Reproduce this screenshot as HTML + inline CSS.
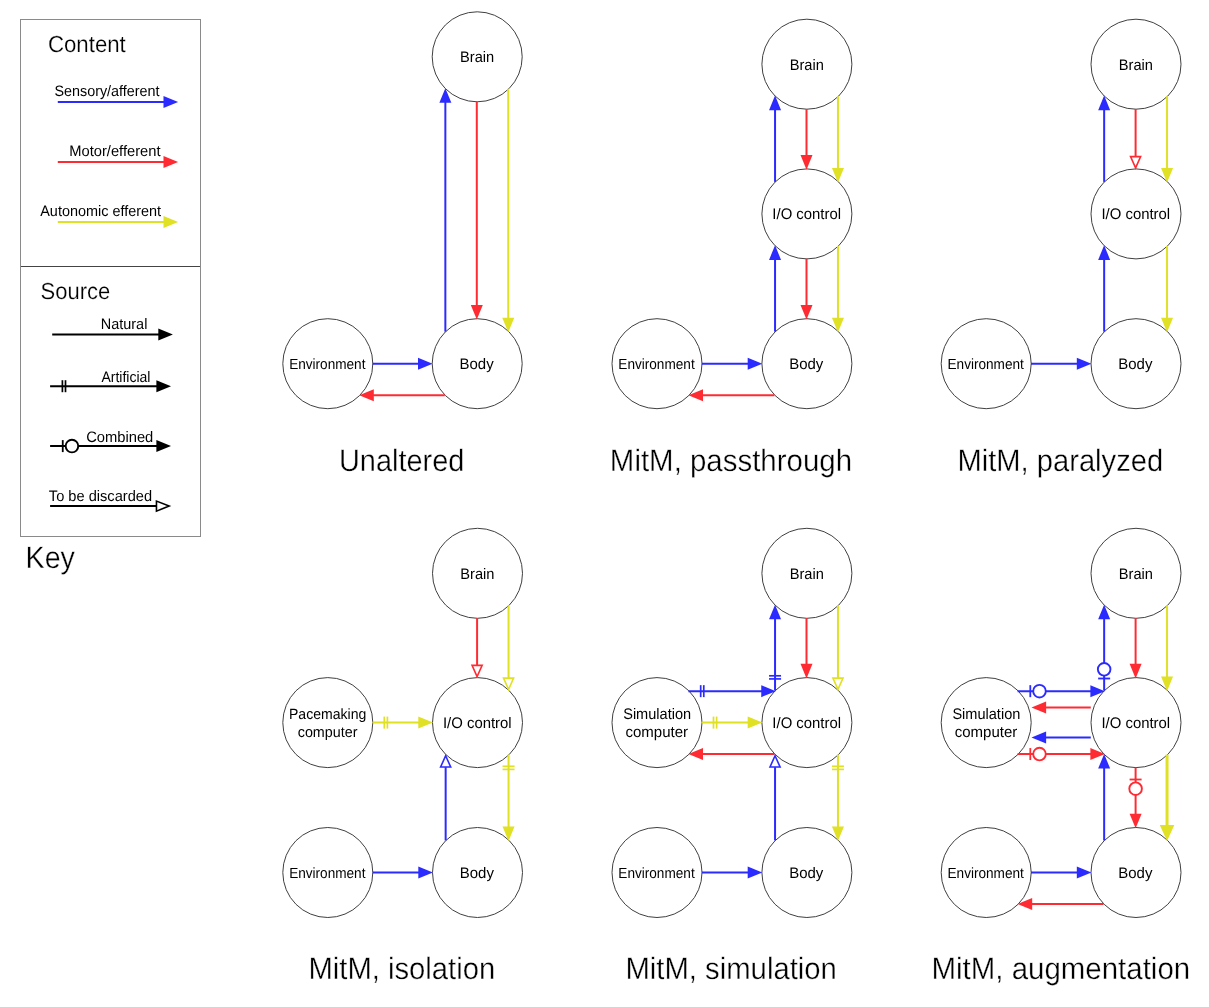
<!DOCTYPE html>
<html><head><meta charset="utf-8"><style>
html,body{margin:0;padding:0;background:#fff;}
svg{display:block;}
text{font-family:"Liberation Sans",sans-serif;fill:#000;text-rendering:geometricPrecision;}
svg{will-change:transform;}
.big{stroke:#fff;stroke-width:0.35px;}
.mid{stroke:#fff;stroke-width:0.2px;}
</style></head><body>
<svg width="1209" height="1007" viewBox="0 0 1209 1007">
<rect width="1209" height="1007" fill="#fff"/>
<circle cx="477.2" cy="56.8" r="45" fill="#fff" stroke="#404040" stroke-width="1"/>
<circle cx="327.8" cy="363.7" r="45" fill="#fff" stroke="#404040" stroke-width="1"/>
<circle cx="477.2" cy="363.7" r="45" fill="#fff" stroke="#404040" stroke-width="1"/>
<circle cx="806.9" cy="64.2" r="45" fill="#fff" stroke="#404040" stroke-width="1"/>
<circle cx="806.9" cy="213.9" r="45" fill="#fff" stroke="#404040" stroke-width="1"/>
<circle cx="657" cy="363.7" r="45" fill="#fff" stroke="#404040" stroke-width="1"/>
<circle cx="806.9" cy="363.7" r="45" fill="#fff" stroke="#404040" stroke-width="1"/>
<circle cx="1136" cy="64.2" r="45" fill="#fff" stroke="#404040" stroke-width="1"/>
<circle cx="1136" cy="213.9" r="45" fill="#fff" stroke="#404040" stroke-width="1"/>
<circle cx="986.2" cy="363.7" r="45" fill="#fff" stroke="#404040" stroke-width="1"/>
<circle cx="1136" cy="363.7" r="45" fill="#fff" stroke="#404040" stroke-width="1"/>
<circle cx="477.5" cy="573.3" r="45" fill="#fff" stroke="#404040" stroke-width="1"/>
<circle cx="477.5" cy="722.6" r="45" fill="#fff" stroke="#404040" stroke-width="1"/>
<circle cx="327.8" cy="722.6" r="45" fill="#fff" stroke="#404040" stroke-width="1"/>
<circle cx="327.8" cy="872.5" r="45" fill="#fff" stroke="#404040" stroke-width="1"/>
<circle cx="477.5" cy="872.5" r="45" fill="#fff" stroke="#404040" stroke-width="1"/>
<circle cx="806.9" cy="573.3" r="45" fill="#fff" stroke="#404040" stroke-width="1"/>
<circle cx="806.9" cy="722.6" r="45" fill="#fff" stroke="#404040" stroke-width="1"/>
<circle cx="657" cy="722.6" r="45" fill="#fff" stroke="#404040" stroke-width="1"/>
<circle cx="657" cy="872.5" r="45" fill="#fff" stroke="#404040" stroke-width="1"/>
<circle cx="806.9" cy="872.5" r="45" fill="#fff" stroke="#404040" stroke-width="1"/>
<circle cx="1136" cy="573.3" r="45" fill="#fff" stroke="#404040" stroke-width="1"/>
<circle cx="1136" cy="722.6" r="45" fill="#fff" stroke="#404040" stroke-width="1"/>
<circle cx="986.2" cy="722.6" r="45" fill="#fff" stroke="#404040" stroke-width="1"/>
<circle cx="986.2" cy="872.5" r="45" fill="#fff" stroke="#404040" stroke-width="1"/>
<circle cx="1136" cy="872.5" r="45" fill="#fff" stroke="#404040" stroke-width="1"/>
<rect x="20.5" y="19.5" width="180" height="517" fill="none" stroke="#8a8a8a" stroke-width="1"/>
<line x1="21" y1="266.5" x2="200" y2="266.5" stroke="#444" stroke-width="1"/>
<line x1="57.8" y1="102" x2="164.5" y2="102" stroke="#2b2bff" stroke-width="2"/>
<polygon points="178.1,102 163.5,108 163.5,96" fill="#2b2bff"/>
<line x1="57.8" y1="162" x2="164.5" y2="162" stroke="#ff2b33" stroke-width="2"/>
<polygon points="178.1,162 163.5,168 163.5,156" fill="#ff2b33"/>
<line x1="57.8" y1="222" x2="164.5" y2="222" stroke="#e0e024" stroke-width="2"/>
<polygon points="178.1,222 163.5,228 163.5,216" fill="#e0e024"/>
<line x1="52.2" y1="334.4" x2="159.3" y2="334.4" stroke="#000000" stroke-width="2"/>
<polygon points="172.9,334.4 158.3,340.4 158.3,328.4" fill="#000000"/>
<line x1="50.1" y1="386.2" x2="157.4" y2="386.2" stroke="#000000" stroke-width="2"/>
<polygon points="171,386.2 156.4,392.2 156.4,380.2" fill="#000000"/>
<line x1="62.4" y1="392.2" x2="62.4" y2="380.2" stroke="#000000" stroke-width="1.7"/>
<line x1="65.5" y1="392.2" x2="65.5" y2="380.2" stroke="#000000" stroke-width="1.7"/>
<line x1="50.1" y1="446.1" x2="157.4" y2="446.1" stroke="#000000" stroke-width="2"/>
<polygon points="171,446.1 156.4,452.1 156.4,440.1" fill="#000000"/>
<line x1="62.75" y1="452.1" x2="62.75" y2="440.1" stroke="#000000" stroke-width="1.8"/>
<circle cx="71.95" cy="446.1" r="6.3" fill="#fff" stroke="#000000" stroke-width="1.9"/>
<line x1="50.1" y1="506.1" x2="156.3" y2="506.1" stroke="#000000" stroke-width="2"/>
<polygon points="169.14,506.1 156.46,511.14 156.46,501.06" fill="#fff" stroke="#000000" stroke-width="1.6" stroke-linejoin="miter"/>
<line x1="445.35" y1="331.71" x2="445.35" y2="101.79" stroke="#2b2bff" stroke-width="2"/>
<polygon points="445.35,88.19 451.35,102.79 439.35,102.79" fill="#2b2bff"/>
<line x1="476.8" y1="101.6" x2="476.8" y2="305.9" stroke="#ff2b33" stroke-width="2"/>
<polygon points="476.8,319.5 470.8,304.9 482.8,304.9" fill="#ff2b33"/>
<line x1="508.25" y1="88.79" x2="508.25" y2="318.71" stroke="#e0e024" stroke-width="2"/>
<polygon points="508.25,332.31 502.25,317.71 514.25,317.71" fill="#e0e024"/>
<line x1="372.6" y1="363.7" x2="419" y2="363.7" stroke="#2b2bff" stroke-width="2"/>
<polygon points="432.6,363.7 418,369.7 418,357.7" fill="#2b2bff"/>
<line x1="444.81" y1="395.15" x2="372.79" y2="395.15" stroke="#ff2b33" stroke-width="2"/>
<polygon points="359.19,395.15 373.79,389.15 373.79,401.15" fill="#ff2b33"/>
<line x1="775.05" y1="181.91" x2="775.05" y2="109.19" stroke="#2b2bff" stroke-width="2"/>
<polygon points="775.05,95.59 781.05,110.19 769.05,110.19" fill="#2b2bff"/>
<line x1="775.05" y1="331.71" x2="775.05" y2="258.89" stroke="#2b2bff" stroke-width="2"/>
<polygon points="775.05,245.29 781.05,259.89 769.05,259.89" fill="#2b2bff"/>
<line x1="806.5" y1="109" x2="806.5" y2="156.1" stroke="#ff2b33" stroke-width="2"/>
<polygon points="806.5,169.7 800.5,155.1 812.5,155.1" fill="#ff2b33"/>
<line x1="806.5" y1="258.7" x2="806.5" y2="305.9" stroke="#ff2b33" stroke-width="2"/>
<polygon points="806.5,319.5 800.5,304.9 812.5,304.9" fill="#ff2b33"/>
<line x1="837.95" y1="96.19" x2="837.95" y2="168.91" stroke="#e0e024" stroke-width="2"/>
<polygon points="837.95,182.51 831.95,167.91 843.95,167.91" fill="#e0e024"/>
<line x1="837.95" y1="245.89" x2="837.95" y2="318.71" stroke="#e0e024" stroke-width="2"/>
<polygon points="837.95,332.31 831.95,317.71 843.95,317.71" fill="#e0e024"/>
<line x1="701.8" y1="363.7" x2="748.7" y2="363.7" stroke="#2b2bff" stroke-width="2"/>
<polygon points="762.3,363.7 747.7,369.7 747.7,357.7" fill="#2b2bff"/>
<line x1="774.51" y1="395.15" x2="701.99" y2="395.15" stroke="#ff2b33" stroke-width="2"/>
<polygon points="688.39,395.15 702.99,389.15 702.99,401.15" fill="#ff2b33"/>
<line x1="1104.15" y1="181.91" x2="1104.15" y2="109.19" stroke="#2b2bff" stroke-width="2"/>
<polygon points="1104.15,95.59 1110.15,110.19 1098.15,110.19" fill="#2b2bff"/>
<line x1="1104.15" y1="331.71" x2="1104.15" y2="258.89" stroke="#2b2bff" stroke-width="2"/>
<polygon points="1104.15,245.29 1110.15,259.89 1098.15,259.89" fill="#2b2bff"/>
<line x1="1135.6" y1="109" x2="1135.6" y2="156.5" stroke="#ff2b33" stroke-width="2"/>
<polygon points="1135.6,167.94 1130.56,156.66 1140.64,156.66" fill="#fff" stroke="#ff2b33" stroke-width="1.6" stroke-linejoin="miter"/>
<line x1="1167.05" y1="96.19" x2="1167.05" y2="168.91" stroke="#e0e024" stroke-width="2"/>
<polygon points="1167.05,182.51 1161.05,167.91 1173.05,167.91" fill="#e0e024"/>
<line x1="1167.05" y1="245.89" x2="1167.05" y2="318.71" stroke="#e0e024" stroke-width="2"/>
<polygon points="1167.05,332.31 1161.05,317.71 1173.05,317.71" fill="#e0e024"/>
<line x1="1031" y1="363.7" x2="1077.8" y2="363.7" stroke="#2b2bff" stroke-width="2"/>
<polygon points="1091.4,363.7 1076.8,369.7 1076.8,357.7" fill="#2b2bff"/>
<line x1="477.1" y1="618.1" x2="477.1" y2="665.2" stroke="#ff2b33" stroke-width="2"/>
<polygon points="477.1,676.64 472.06,665.36 482.14,665.36" fill="#fff" stroke="#ff2b33" stroke-width="1.6" stroke-linejoin="miter"/>
<line x1="508.55" y1="605.29" x2="508.55" y2="678.01" stroke="#e0e024" stroke-width="2"/>
<polygon points="508.55,689.45 503.51,678.17 513.59,678.17" fill="#fff" stroke="#e0e024" stroke-width="1.6" stroke-linejoin="miter"/>
<line x1="372.6" y1="722.6" x2="419.3" y2="722.6" stroke="#e0e024" stroke-width="2"/>
<polygon points="432.9,722.6 418.3,728.6 418.3,716.6" fill="#e0e024"/>
<line x1="384.3" y1="728.6" x2="384.3" y2="716.6" stroke="#e0e024" stroke-width="1.7"/>
<line x1="387.4" y1="728.6" x2="387.4" y2="716.6" stroke="#e0e024" stroke-width="1.7"/>
<line x1="445.65" y1="840.51" x2="445.65" y2="767.19" stroke="#2b2bff" stroke-width="2"/>
<polygon points="445.65,755.75 450.69,767.03 440.61,767.03" fill="#fff" stroke="#2b2bff" stroke-width="1.6" stroke-linejoin="miter"/>
<line x1="508.55" y1="754.59" x2="508.55" y2="827.51" stroke="#e0e024" stroke-width="2"/>
<polygon points="508.55,841.11 502.55,826.51 514.55,826.51" fill="#e0e024"/>
<line x1="502.55" y1="766.29" x2="514.55" y2="766.29" stroke="#e0e024" stroke-width="1.7"/>
<line x1="502.55" y1="769.39" x2="514.55" y2="769.39" stroke="#e0e024" stroke-width="1.7"/>
<line x1="372.6" y1="872.5" x2="419.3" y2="872.5" stroke="#2b2bff" stroke-width="2"/>
<polygon points="432.9,872.5 418.3,878.5 418.3,866.5" fill="#2b2bff"/>
<line x1="775.05" y1="690.61" x2="775.05" y2="618.29" stroke="#2b2bff" stroke-width="2"/>
<polygon points="775.05,604.69 781.05,619.29 769.05,619.29" fill="#2b2bff"/>
<line x1="781.05" y1="678.91" x2="769.05" y2="678.91" stroke="#2b2bff" stroke-width="1.7"/>
<line x1="781.05" y1="675.81" x2="769.05" y2="675.81" stroke="#2b2bff" stroke-width="1.7"/>
<line x1="806.5" y1="618.1" x2="806.5" y2="664.8" stroke="#ff2b33" stroke-width="2"/>
<polygon points="806.5,678.4 800.5,663.8 812.5,663.8" fill="#ff2b33"/>
<line x1="837.95" y1="605.29" x2="837.95" y2="678.01" stroke="#e0e024" stroke-width="2"/>
<polygon points="837.95,689.45 832.91,678.17 842.99,678.17" fill="#fff" stroke="#e0e024" stroke-width="1.6" stroke-linejoin="miter"/>
<line x1="688.39" y1="691.15" x2="762.25" y2="691.15" stroke="#2b2bff" stroke-width="2"/>
<polygon points="775.85,691.15 761.25,697.15 761.25,685.15" fill="#2b2bff"/>
<line x1="700.69" y1="697.15" x2="700.69" y2="685.15" stroke="#2b2bff" stroke-width="1.7"/>
<line x1="703.79" y1="697.15" x2="703.79" y2="685.15" stroke="#2b2bff" stroke-width="1.7"/>
<line x1="701.8" y1="722.6" x2="748.7" y2="722.6" stroke="#e0e024" stroke-width="2"/>
<polygon points="762.3,722.6 747.7,728.6 747.7,716.6" fill="#e0e024"/>
<line x1="713.5" y1="728.6" x2="713.5" y2="716.6" stroke="#e0e024" stroke-width="1.7"/>
<line x1="716.6" y1="728.6" x2="716.6" y2="716.6" stroke="#e0e024" stroke-width="1.7"/>
<line x1="774.51" y1="754.05" x2="701.99" y2="754.05" stroke="#ff2b33" stroke-width="2"/>
<polygon points="688.39,754.05 702.99,748.05 702.99,760.05" fill="#ff2b33"/>
<line x1="775.05" y1="840.51" x2="775.05" y2="767.19" stroke="#2b2bff" stroke-width="2"/>
<polygon points="775.05,755.75 780.09,767.03 770.01,767.03" fill="#fff" stroke="#2b2bff" stroke-width="1.6" stroke-linejoin="miter"/>
<line x1="837.95" y1="754.59" x2="837.95" y2="827.51" stroke="#e0e024" stroke-width="2"/>
<polygon points="837.95,841.11 831.95,826.51 843.95,826.51" fill="#e0e024"/>
<line x1="831.95" y1="766.29" x2="843.95" y2="766.29" stroke="#e0e024" stroke-width="1.7"/>
<line x1="831.95" y1="769.39" x2="843.95" y2="769.39" stroke="#e0e024" stroke-width="1.7"/>
<line x1="701.8" y1="872.5" x2="748.7" y2="872.5" stroke="#2b2bff" stroke-width="2"/>
<polygon points="762.3,872.5 747.7,878.5 747.7,866.5" fill="#2b2bff"/>
<line x1="1104.15" y1="690.61" x2="1104.15" y2="618.29" stroke="#2b2bff" stroke-width="2"/>
<polygon points="1104.15,604.69 1110.15,619.29 1098.15,619.29" fill="#2b2bff"/>
<line x1="1110.15" y1="678.51" x2="1098.15" y2="678.51" stroke="#2b2bff" stroke-width="1.8"/>
<circle cx="1104.15" cy="669.31" r="6.3" fill="#fff" stroke="#2b2bff" stroke-width="1.9"/>
<line x1="1135.6" y1="618.1" x2="1135.6" y2="664.8" stroke="#ff2b33" stroke-width="2"/>
<polygon points="1135.6,678.4 1129.6,663.8 1141.6,663.8" fill="#ff2b33"/>
<line x1="1167.05" y1="605.29" x2="1167.05" y2="677.61" stroke="#e0e024" stroke-width="2"/>
<polygon points="1167.05,691.21 1161.05,676.61 1173.05,676.61" fill="#e0e024"/>
<line x1="1017.59" y1="691.15" x2="1091.35" y2="691.15" stroke="#2b2bff" stroke-width="2"/>
<polygon points="1104.95,691.15 1090.35,697.15 1090.35,685.15" fill="#2b2bff"/>
<line x1="1030.29" y1="697.15" x2="1030.29" y2="685.15" stroke="#2b2bff" stroke-width="1.8"/>
<circle cx="1039.49" cy="691.15" r="6.3" fill="#fff" stroke="#2b2bff" stroke-width="1.9"/>
<line x1="1090.8" y1="707.5" x2="1045.1" y2="707.5" stroke="#ff2b33" stroke-width="2"/>
<polygon points="1031.5,707.5 1046.1,701.5 1046.1,713.5" fill="#ff2b33"/>
<line x1="1090.8" y1="737.5" x2="1045.1" y2="737.5" stroke="#2b2bff" stroke-width="2"/>
<polygon points="1031.5,737.5 1046.1,731.5 1046.1,743.5" fill="#2b2bff"/>
<line x1="1017.59" y1="754.05" x2="1091.35" y2="754.05" stroke="#ff2b33" stroke-width="2"/>
<polygon points="1104.95,754.05 1090.35,760.05 1090.35,748.05" fill="#ff2b33"/>
<line x1="1030.29" y1="760.05" x2="1030.29" y2="748.05" stroke="#ff2b33" stroke-width="1.8"/>
<circle cx="1039.49" cy="754.05" r="6.3" fill="#fff" stroke="#ff2b33" stroke-width="1.9"/>
<line x1="1104.15" y1="840.51" x2="1104.15" y2="767.59" stroke="#2b2bff" stroke-width="2"/>
<polygon points="1104.15,753.99 1110.15,768.59 1098.15,768.59" fill="#2b2bff"/>
<line x1="1135.6" y1="767.4" x2="1135.6" y2="814.7" stroke="#ff2b33" stroke-width="2"/>
<polygon points="1135.6,828.3 1129.6,813.7 1141.6,813.7" fill="#ff2b33"/>
<line x1="1129.6" y1="779.5" x2="1141.6" y2="779.5" stroke="#ff2b33" stroke-width="1.8"/>
<circle cx="1135.6" cy="788.7" r="6.3" fill="#fff" stroke="#ff2b33" stroke-width="1.9"/>
<line x1="1167.05" y1="754.59" x2="1167.05" y2="826.11" stroke="#e0e024" stroke-width="3"/>
<polygon points="1167.05,841.11 1159.75,825.11 1174.35,825.11" fill="#e0e024"/>
<line x1="1031" y1="872.5" x2="1077.8" y2="872.5" stroke="#2b2bff" stroke-width="2"/>
<polygon points="1091.4,872.5 1076.8,878.5 1076.8,866.5" fill="#2b2bff"/>
<line x1="1103.61" y1="903.95" x2="1031.19" y2="903.95" stroke="#ff2b33" stroke-width="2"/>
<polygon points="1017.59,903.95 1032.19,897.95 1032.19,909.95" fill="#ff2b33"/>
<text x="47.99" y="51.9" font-size="23.2" textLength="77.78" lengthAdjust="spacingAndGlyphs" class="mid">Content</text>
<text x="40.61" y="298.8" font-size="23.2" textLength="69.75" lengthAdjust="spacingAndGlyphs" class="mid">Source</text>
<text x="25.54" y="567.8" font-size="30.9" textLength="49.35" lengthAdjust="spacingAndGlyphs" class="big">Key</text>
<text x="54.45" y="95.8" font-size="15.1" textLength="105.05" lengthAdjust="spacingAndGlyphs">Sensory/afferent</text>
<text x="69.19" y="155.8" font-size="15.1" textLength="91.32" lengthAdjust="spacingAndGlyphs">Motor/efferent</text>
<text x="40.26" y="215.8" font-size="15.1" textLength="120.86" lengthAdjust="spacingAndGlyphs">Autonomic efferent</text>
<text x="100.81" y="328.7" font-size="15.1" textLength="46.55" lengthAdjust="spacingAndGlyphs">Natural</text>
<text x="101.47" y="381.6" font-size="15.1" textLength="48.99" lengthAdjust="spacingAndGlyphs">Artificial</text>
<text x="86.16" y="441.6" font-size="15.1" textLength="67.17" lengthAdjust="spacingAndGlyphs">Combined</text>
<text x="48.87" y="500.8" font-size="15.1" textLength="103.15" lengthAdjust="spacingAndGlyphs">To be discarded</text>
<text x="338.96" y="471.2" font-size="30.8" textLength="125.38" lengthAdjust="spacingAndGlyphs" class="big">Unaltered</text>
<text x="609.87" y="470.9" font-size="30.8" textLength="242.17" lengthAdjust="spacingAndGlyphs" class="big">MitM, passthrough</text>
<text x="957.5" y="471.1" font-size="30.8" textLength="205.63" lengthAdjust="spacingAndGlyphs" class="big">MitM, paralyzed</text>
<text x="308.49" y="978.9" font-size="30.8" textLength="186.73" lengthAdjust="spacingAndGlyphs" class="big">MitM, isolation</text>
<text x="625.49" y="978.8" font-size="30.8" textLength="211.36" lengthAdjust="spacingAndGlyphs" class="big">MitM, simulation</text>
<text x="931.47" y="978.7" font-size="30.8" textLength="258.7" lengthAdjust="spacingAndGlyphs" class="big">MitM, augmentation</text>
<text x="459.99" y="62.1" font-size="15.3" textLength="34.19" lengthAdjust="spacingAndGlyphs">Brain</text>
<text x="289.13" y="369" font-size="14.7" textLength="76.34" lengthAdjust="spacingAndGlyphs">Environment</text>
<text x="459.51" y="369" font-size="15.3" textLength="34.16" lengthAdjust="spacingAndGlyphs">Body</text>
<text x="789.69" y="69.5" font-size="15.3" textLength="34.19" lengthAdjust="spacingAndGlyphs">Brain</text>
<text x="772.37" y="219.2" font-size="15.3" textLength="68.69" lengthAdjust="spacingAndGlyphs">I/O control</text>
<text x="618.33" y="369" font-size="14.7" textLength="76.34" lengthAdjust="spacingAndGlyphs">Environment</text>
<text x="789.21" y="369" font-size="15.3" textLength="34.16" lengthAdjust="spacingAndGlyphs">Body</text>
<text x="1118.79" y="69.5" font-size="15.3" textLength="34.19" lengthAdjust="spacingAndGlyphs">Brain</text>
<text x="1101.47" y="219.2" font-size="15.3" textLength="68.69" lengthAdjust="spacingAndGlyphs">I/O control</text>
<text x="947.53" y="369" font-size="14.7" textLength="76.34" lengthAdjust="spacingAndGlyphs">Environment</text>
<text x="1118.31" y="369" font-size="15.3" textLength="34.16" lengthAdjust="spacingAndGlyphs">Body</text>
<text x="460.29" y="578.6" font-size="15.3" textLength="34.19" lengthAdjust="spacingAndGlyphs">Brain</text>
<text x="442.97" y="727.9" font-size="15.3" textLength="68.69" lengthAdjust="spacingAndGlyphs">I/O control</text>
<text x="288.99" y="718.8" font-size="14.9" textLength="77.35" lengthAdjust="spacingAndGlyphs">Pacemaking</text>
<text x="297.74" y="736.5" font-size="14.9" textLength="59.74" lengthAdjust="spacingAndGlyphs">computer</text>
<text x="289.13" y="877.8" font-size="14.7" textLength="76.34" lengthAdjust="spacingAndGlyphs">Environment</text>
<text x="459.81" y="877.8" font-size="15.3" textLength="34.16" lengthAdjust="spacingAndGlyphs">Body</text>
<text x="789.69" y="578.6" font-size="15.3" textLength="34.19" lengthAdjust="spacingAndGlyphs">Brain</text>
<text x="772.37" y="727.9" font-size="15.3" textLength="68.69" lengthAdjust="spacingAndGlyphs">I/O control</text>
<text x="623.2" y="718.8" font-size="15.3" textLength="67.92" lengthAdjust="spacingAndGlyphs">Simulation</text>
<text x="625.51" y="736.5" font-size="15.3" textLength="62.58" lengthAdjust="spacingAndGlyphs">computer</text>
<text x="618.33" y="877.8" font-size="14.7" textLength="76.34" lengthAdjust="spacingAndGlyphs">Environment</text>
<text x="789.21" y="877.8" font-size="15.3" textLength="34.16" lengthAdjust="spacingAndGlyphs">Body</text>
<text x="1118.79" y="578.6" font-size="15.3" textLength="34.19" lengthAdjust="spacingAndGlyphs">Brain</text>
<text x="1101.47" y="727.9" font-size="15.3" textLength="68.69" lengthAdjust="spacingAndGlyphs">I/O control</text>
<text x="952.4" y="718.8" font-size="15.3" textLength="67.92" lengthAdjust="spacingAndGlyphs">Simulation</text>
<text x="954.71" y="736.5" font-size="15.3" textLength="62.58" lengthAdjust="spacingAndGlyphs">computer</text>
<text x="947.53" y="877.8" font-size="14.7" textLength="76.34" lengthAdjust="spacingAndGlyphs">Environment</text>
<text x="1118.31" y="877.8" font-size="15.3" textLength="34.16" lengthAdjust="spacingAndGlyphs">Body</text>
</svg>
</body></html>
